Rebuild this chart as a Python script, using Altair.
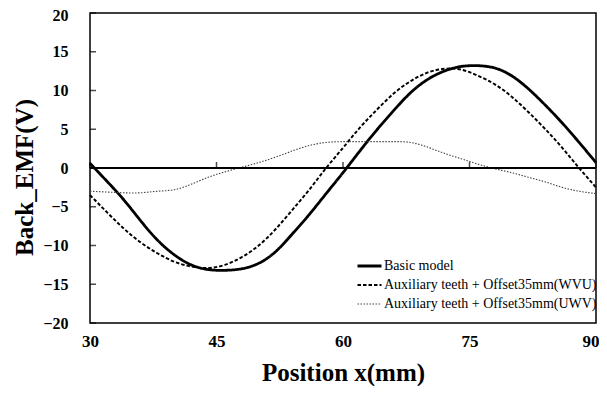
import altair as alt
import pandas as pd

# ---- data ----
x_pos = [30, 32, 34, 36, 38, 40, 42, 44, 46, 48, 50, 52, 54, 56, 58, 60,
         62, 64, 66, 68, 70, 72, 74, 76, 78, 80, 82, 84, 86, 88, 90]
basic = [0.6, -1.7, -4.1, -6.8, -9.3, -11.2, -12.5, -13.1, -13.2, -13.0, -12.3, -10.8, -8.5, -6.0, -3.3, -0.6,
         2.2, 4.9, 7.4, 9.7, 11.4, 12.5, 13.1, 13.2, 12.9, 11.9, 10.2, 8.1, 5.8, 3.3, 0.7]
wvu = [-3.5, -5.7, -7.8, -9.6, -11.0, -12.1, -12.7, -12.9, -12.5, -11.5, -10.0, -7.9, -5.4, -2.8, 0.0, 2.6,
       5.2, 7.5, 9.6, 11.2, 12.3, 12.8, 12.7, 11.9, 10.8, 9.2, 7.2, 5.0, 2.6, 0.0, -2.5]
uwv = [-3.0, -3.1, -3.2, -3.2, -3.0, -2.8, -2.1, -1.2, -0.5, 0.1, 0.7, 1.4, 2.2, 2.9, 3.3, 3.4,
       3.4, 3.4, 3.4, 3.3, 2.7, 1.9, 1.2, 0.5, -0.1, -0.6, -1.2, -1.8, -2.5, -3.0, -3.3]
series_names = ["Basic model",
                "Auxiliary teeth + Offset35mm(WVU)",
                "Auxiliary teeth + Offset35mm(UWV)"]
x_ticks = [30, 45, 60, 75, 90]
y_ticks = [-20, -15, -10, -5, 0, 5, 10, 15, 20]
zero_line = [0]
x_start = 30

rows = []
for name, vals in zip(series_names, [basic, wvu, uwv]):
    for xv, yv in zip(x_pos, vals):
        rows.append({"x": xv, "y": yv, "series": name})
df = pd.DataFrame(rows)

FONT = "Liberation Serif"
x_scale = alt.Scale(domain=[30, 90], nice=False, zero=False)
y_scale = alt.Scale(domain=[-20, 20], nice=False)

x_axis = alt.Axis(values=x_ticks, title="Position x(mm)", ticks=False, domain=False,
                  grid=False, labelFlush=False, labelPadding=10,
                  labelAlign=alt.expr("datum.value == 90 ? 'right' : 'center'"),
                  labelOffset=alt.expr("datum.value == 90 ? 3 : 0"),
                  labelFont=FONT, labelFontSize=17, labelFontWeight="bold",
                  labelColor="black", titleFont=FONT, titleFontSize=25,
                  titleFontWeight="bold", titleColor="black", titlePadding=11)
y_axis = alt.Axis(values=y_ticks, title="Back_EMF(V)", ticks=False, domain=False,
                  grid=False, labelPadding=22, labelOverlap=False,
                  labelOffset=alt.expr("datum.value == 20 ? 2 : 0"),
                  labelFont=FONT, labelFontSize=16, labelFontWeight="bold",
                  labelColor="black", titleFont=FONT, titleFontSize=25,
                  titleFontWeight="bold", titleColor="black", titlePadding=5, titleY=164)

leg = dict(title=None, orient="none", legendX=266, legendY=246,
           symbolType="stroke", symbolSize=576, clipHeight=14, rowPadding=5,
           labelFont=FONT, labelFontSize=14, labelColor="black", labelOffset=1,
           labelLimit=400, padding=0)

lines = alt.Chart(df).mark_line(interpolate="natural").encode(
    x=alt.X("x:Q", scale=x_scale, axis=x_axis),
    y=alt.Y("y:Q", scale=y_scale, axis=y_axis),
    color=alt.Color("series:N", scale=alt.Scale(domain=series_names,
                                                 range=["black", "black", "#444444"]),
                    legend=alt.Legend(**leg)),
    strokeDash=alt.StrokeDash("series:N", scale=alt.Scale(domain=series_names,
                                                          range=[[1, 0], [3.5, 2], [1.5, 1.5]]),
                              legend=alt.Legend(**leg)),
    strokeWidth=alt.StrokeWidth("series:N", scale=alt.Scale(domain=series_names,
                                                            range=[2.8, 1.1, 1.1]),
                                legend=alt.Legend(**leg)),
)

zero = alt.Chart(pd.DataFrame({"y": zero_line})).mark_rule(color="black", strokeWidth=2).encode(
    y=alt.Y("y:Q", scale=y_scale, axis=y_axis)
)

xt = alt.Chart(pd.DataFrame({"x": x_ticks, "y": [zero_line[0]] * len(x_ticks)})).mark_tick(
    orient="vertical", size=6, thickness=1.5, color="black", yOffset=-3
).encode(x=alt.X("x:Q", scale=x_scale, axis=x_axis), y=alt.Y("y:Q", scale=y_scale, axis=y_axis))

yt = alt.Chart(pd.DataFrame({"y": y_ticks, "x": [x_start] * len(y_ticks)})).mark_tick(
    orient="horizontal", size=6, thickness=1.5, color="black", xOffset=3
).encode(y=alt.Y("y:Q", scale=y_scale, axis=y_axis), x=alt.X("x:Q", scale=x_scale, axis=x_axis))

chart = alt.layer(lines, zero, xt, yt).properties(
    width=506, height=310,
    autosize=alt.AutoSizeParams(type="none"),
    padding={"left": 82, "top": 5, "right": 3, "bottom": 63},
    background="white",
).configure_view(stroke="black", strokeWidth=1.5)

chart.save("out.html", embed_options={"renderer": "svg", "actions": False})
